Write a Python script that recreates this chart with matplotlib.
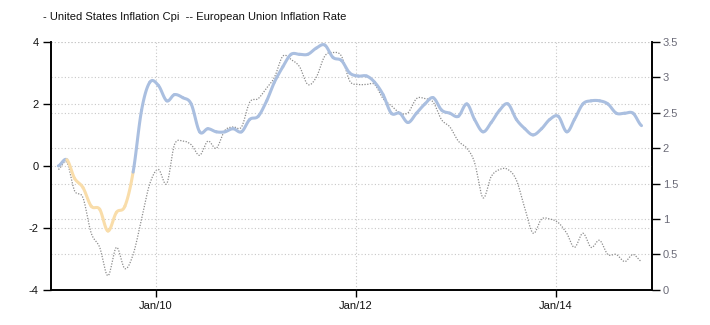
import numpy as np
import pandas as pd
import matplotlib
matplotlib.use("Agg")
import matplotlib.pyplot as plt
import matplotlib.dates as mdates
from matplotlib.collections import LineCollection

plt.rcParams['font.family'] = ['Liberation Sans', 'DejaVu Sans']
plt.rcParams['axes.unicode_minus'] = False

# Monthly observations, Jan 2009 - Nov 2014 (plotted mid-month)
months = pd.date_range("2009-01-01", "2014-11-01", freq="MS") + pd.Timedelta(days=9)

us_cpi = [0.0, 0.2, -0.4, -0.7, -1.3, -1.4, -2.1, -1.5, -1.3, -0.2, 1.8, 2.7,
          2.6, 2.1, 2.3, 2.2, 2.0, 1.1, 1.2, 1.1, 1.1, 1.2, 1.1, 1.5,
          1.6, 2.1, 2.7, 3.2, 3.6, 3.6, 3.6, 3.8, 3.9, 3.5, 3.4, 3.0,
          2.9, 2.9, 2.7, 2.3, 1.7, 1.7, 1.4, 1.7, 2.0, 2.2, 1.8, 1.7,
          1.6, 2.0, 1.5, 1.1, 1.4, 1.8, 2.0, 1.5, 1.2, 1.0, 1.2, 1.5,
          1.6, 1.1, 1.5, 2.0, 2.1, 2.1, 2.0, 1.7, 1.7, 1.7, 1.3]

eu_rate = [1.7, 1.8, 1.4, 1.3, 0.8, 0.6, 0.2, 0.6, 0.3, 0.5, 1.0, 1.5,
           1.7, 1.5, 2.05, 2.1, 2.05, 1.9, 2.1, 2.0, 2.25, 2.3, 2.3, 2.65,
           2.7, 2.85, 3.0, 3.3, 3.25, 3.15, 2.9, 3.0, 3.3, 3.35, 3.3, 2.95,
           2.9, 2.9, 2.9, 2.7, 2.6, 2.5, 2.5, 2.7, 2.7, 2.65, 2.4, 2.3,
           2.1, 2.0, 1.8, 1.3, 1.6, 1.7, 1.7, 1.55, 1.15, 0.8, 1.0, 1.0,
           0.95, 0.8, 0.6, 0.8, 0.6, 0.7, 0.5, 0.5, 0.4, 0.5, 0.4]

legend_text = "- United States Inflation Cpi  -- European Union Inflation Rate"
x_ticks = ["2010-01-01", "2012-01-01", "2014-01-01"]
left_ticks = [-4, -2, 0, 2, 4]
right_ticks = [0, 0.5, 1, 1.5, 2, 2.5, 3, 3.5]

BLUE = "#aabfe0"
ORANGE = "#f9ddaa"
GRID = "#c8c8c8"


def spline_segments(x, y, n=14):
    """Catmull-Rom pieces between consecutive observations."""
    x = np.asarray(x, float)
    y = np.asarray(y, float)
    yp = np.concatenate([[y[0]], y, [y[-1]]])
    segs = []
    t = np.linspace(0, 1, n)
    for i in range(len(y) - 1):
        p0, p1, p2, p3 = yp[i], yp[i + 1], yp[i + 2], yp[i + 3]
        ys = 0.5 * ((2 * p1) + (-p0 + p2) * t
                    + (2 * p0 - 5 * p1 + 4 * p2 - p3) * t ** 2
                    + (-p0 + 3 * p1 - 3 * p2 + p3) * t ** 3)
        xs = x[i] + (x[i + 1] - x[i]) * t
        segs.append(np.column_stack([xs, ys]))
    return segs


fig = plt.figure(figsize=(7.10, 3.25), dpi=100)
ax = fig.add_axes([0.0718, 0.108, 0.8460, 0.763])
ax2 = ax.twinx()

xn = mdates.date2num(months)

# Right-axis grid and EU series
ax2.set_ylim(0, 3.5)
ax2.set_yticks(right_ticks)
ax2.set_yticklabels([f"{v:g}" for v in right_ticks])
ax2.grid(axis='y', color=GRID, linestyle=(0, (1, 2)), linewidth=0.8)
eu_segs = spline_segments(xn, eu_rate)
eu_pts = np.vstack([s if i == 0 else s[1:] for i, s in enumerate(eu_segs)])
ax2.plot(eu_pts[:, 0], eu_pts[:, 1], color="#8c8c8c", linestyle=(0, (1, 1.2)),
         linewidth=0.9, zorder=3)

# Left-axis grid and US series
ax.set_ylim(-4, 4)
ax.set_yticks(left_ticks)
ax.grid(axis='y', color=GRID, linestyle=(0, (1, 2)), linewidth=0.8)
ax.grid(axis='x', color=GRID, linestyle=(0, (1, 2)), linewidth=0.8)
us_segs = spline_segments(xn, us_cpi)
colors = [ORANGE if us_cpi[i + 1] < 0 else BLUE for i in range(len(us_segs))]
lc = LineCollection(us_segs, colors=colors, linewidths=2.2, capstyle='round',
                    joinstyle='round', zorder=4)
# draw US series above EU series
ax.set_zorder(ax2.get_zorder() + 1)
ax.patch.set_visible(False)
ax.add_collection(lc)

ax.set_xlim(mdates.date2num(pd.Timestamp("2008-12-14")),
            mdates.date2num(pd.Timestamp("2014-12-17")))
ax.set_xticks(mdates.date2num(pd.to_datetime(x_ticks)))
ax.xaxis.set_major_formatter(mdates.DateFormatter("%b/%y"))

for a in (ax, ax2):
    a.spines['top'].set_visible(False)
    for s in ('left', 'right', 'bottom'):
        a.spines[s].set_color('black')
        a.spines[s].set_linewidth(1.2)

ax.tick_params(axis='y', labelsize=8, labelcolor='#111111', length=6, width=1, pad=3)
ax.tick_params(axis='x', labelsize=8, labelcolor='#111111', length=5, width=1, pad=3)
ax2.tick_params(axis='y', labelsize=8, labelcolor='#6b6b78', length=6, width=1, pad=2)

fig.text(0.06, 0.948, legend_text, fontsize=8, color='#111111', va='center')

fig.savefig("out.png", dpi=100)
